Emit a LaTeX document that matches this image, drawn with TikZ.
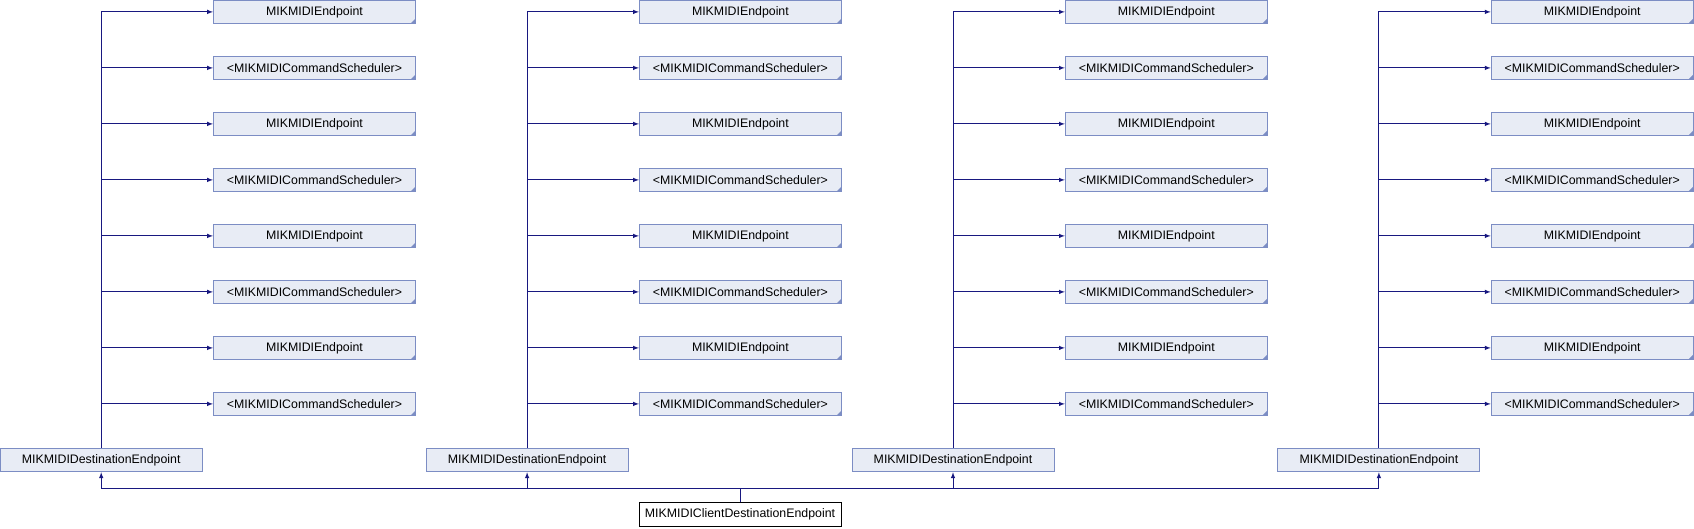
\documentclass[tikz,border=0pt]{standalone}
\usepackage{fontspec}
\setmainfont{Liberation Sans}
\usepackage{xcolor}
\usetikzlibrary{arrows,shapes}

\definecolor{boxfill}{RGB}{232,236,245}
\definecolor{boxline}{RGB}{124,141,196}
\definecolor{edgeblue}{RGB}{24,24,128}

\tikzset{
  cls/.style={rectangle, draw=boxline, fill=boxfill, line width=1pt,
    minimum width=202pt, minimum height=23.5pt, inner sep=0pt,
    font=\fontsize{12.35}{14}\selectfont},
  ext/.style={cls, path picture={\fill[boxline] (path picture bounding box.south east)
    -- ++(-5pt,0pt) -- ++(5pt,5pt) -- cycle;}},
  self/.style={cls, draw=black, fill=white},
  inh/.style={draw=edgeblue, line width=1pt, -latex}
}

\begin{document}
\begin{tikzpicture}[x=1pt,y=-1pt]
    \useasboundingbox (0,0) rectangle (1694,528);
    \node[self] (client) at (740,514.6) {MIKMIDIClientDestinationEndpoint};
    \coordinate (bus) at (740,488.3);
    \foreach \c in {0,1,2,3}{
        \node[cls] (d\c) at (101.2+425.9*\c,460) {MIKMIDIDestinationEndpoint};
        \draw[inh] (client.north) -- (bus) -| (d\c.south);
        \foreach \r/\name in {0/MIKMIDIEndpoint,1/<MIKMIDICommandScheduler>,
                              2/MIKMIDIEndpoint,3/<MIKMIDICommandScheduler>,
                              4/MIKMIDIEndpoint,5/<MIKMIDICommandScheduler>,
                              6/MIKMIDIEndpoint,7/<MIKMIDICommandScheduler>}{
            \node[ext] (e\c-\r) at (314.5+425.9*\c,11.9+56*\r) {\name};
            \draw[inh] (d\c.north) |- (e\c-\r.west);
        }
    }
\end{tikzpicture}
\end{document}
